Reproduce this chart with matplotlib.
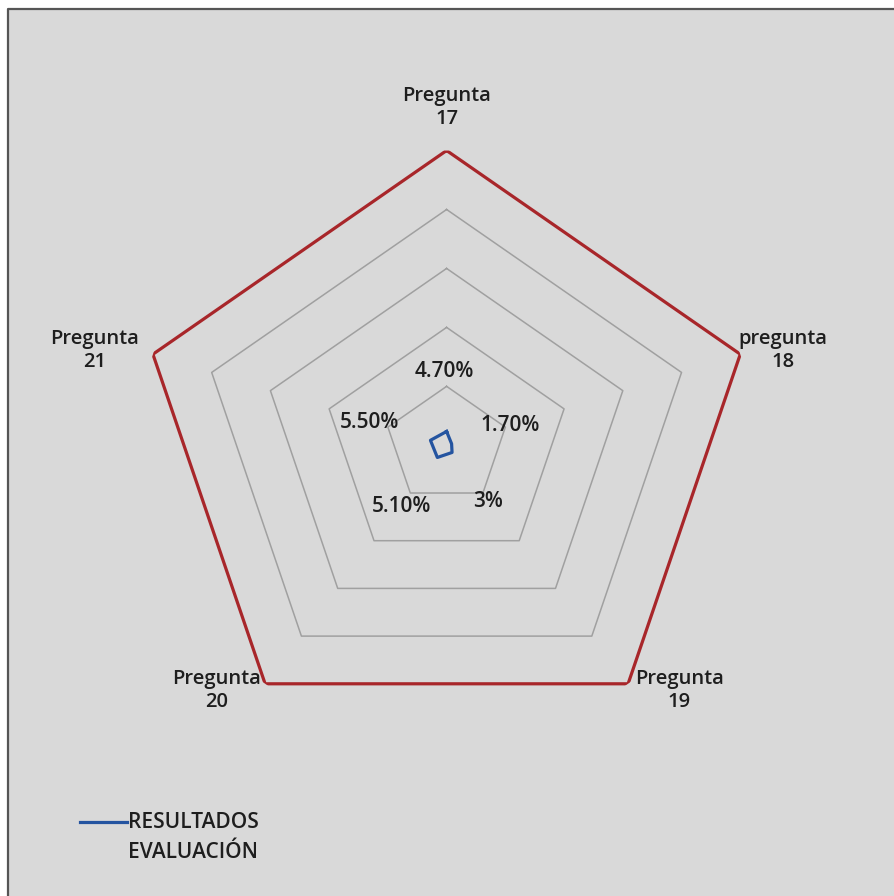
import numpy as np
import matplotlib.pyplot as plt
from matplotlib.lines import Line2D
from matplotlib.patches import Rectangle

plt.rcParams['font.family'] = ['Open Sans', 'DejaVu Sans']

categories = ['Pregunta\n17', 'pregunta\n18', 'Pregunta\n19', 'Pregunta\n20', 'Pregunta\n21']
values = [0.047, 0.017, 0.03, 0.051, 0.055]
value_labels = ['4.70%', '1.70%', '3%', '5.10%', '5.50%']
rings = [0.2, 0.4, 0.6, 0.8]
outer = 1.0

# offsets (points) for category and value labels
cat_offsets = [(0, 31), (31, 3), (37, -5), (-35, -5), (-42, 3)]
val_offsets = [(-1.5, 43), (42, 13), (26, -35), (-26, -35), (-44, 13)]

bg = '#d9d9d9'
txt = '#1e1e1e'

fig = plt.figure(figsize=(8.95, 8.96), dpi=100, facecolor='white')
fig.add_artist(Rectangle((8 / 895, 0), 1, 1 - 9 / 896, transform=fig.transFigure,
                         facecolor=bg, edgecolor='none', zorder=-2))
fig.add_artist(Line2D([8 / 895, 8 / 895, 1], [0, 1 - 9 / 896, 1 - 9 / 896],
                      transform=fig.transFigure, color='#555555', lw=1.6, zorder=-1))

ax = fig.add_axes([0.154, 0.174, 0.690, 0.658], projection='polar')
ax.set_aspect('auto')
ax.set_facecolor('none')
ax.set_theta_offset(np.pi / 2)
ax.set_theta_direction(-1)
ax.set_ylim(0, 1)
ax.spines['polar'].set_visible(False)
ax.grid(False)
ax.set_xticks([])
ax.set_yticks([])

n = len(categories)
theta = np.linspace(0, 2 * np.pi, n, endpoint=False)
theta_closed = np.append(theta, theta[0])

for r in rings:
    ax.plot(theta_closed, [r] * (n + 1), color='#a0a0a0', lw=1.1)
ax.plot(theta_closed, [outer] * (n + 1), color='#a8262a', lw=2.3)

vals_closed = values + values[:1]
ax.plot(theta_closed, vals_closed, color='#2454a0', lw=2.3, zorder=5)

for t, lab, off in zip(theta, categories, cat_offsets):
    ax.annotate(lab, (t, outer), xytext=off, textcoords='offset points',
                ha='center', va='center', fontsize=14.5, fontweight='semibold',
                color=txt, linespacing=1.2)

for t, v, lab, off in zip(theta, values, value_labels, val_offsets):
    ax.annotate(lab, (t, v), xytext=off, textcoords='offset points',
                ha='center', va='center', fontsize=15, fontweight='semibold', color=txt)

# legend
fig.add_artist(Line2D([80 / 895, 127 / 895], [1 - 822 / 896] * 2,
                      transform=fig.transFigure, color='#2454a0', lw=2.3))
fig.text(128 / 895, 1 - 822 / 896, 'RESULTADOS', fontsize=15, fontweight='semibold',
         color=txt, va='center')
fig.text(128 / 895, 1 - 852 / 896, 'EVALUACIÓN', fontsize=15, fontweight='semibold',
         color=txt, va='center')

fig.savefig('out.png', dpi=100, facecolor=fig.get_facecolor())
